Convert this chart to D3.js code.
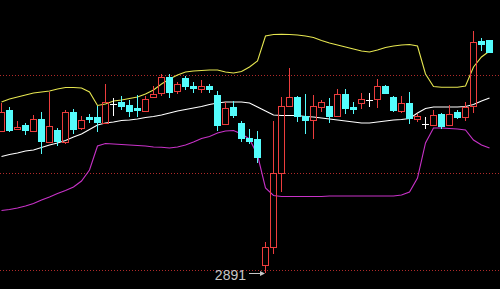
<!DOCTYPE html>
<html>
<head>
<meta charset="utf-8">
<script src="https://cdn.jsdelivr.net/npm/d3@7"></script>
<style>
  html, body { margin: 0; padding: 0; background: #000; }
  svg { display: block; }
</style>
</head>
<body>
<div id="chart"></div>
<script>
var width = 500, height = 289;

// daily candles
var openP  = [3032,3053,3034,3038,3032,3044,3021,3033,3021,3051,3035,3046,3046,3040,3059,3061,3058,3055,3052,3066,
              3070,3086,3072,3085,3077,3074,3077,3068,3039,3056,3040,3025,3024,2898,2916,2990,3057,3066,3047,3043,
              3056,3057,3047,3069,3056,3060,3063,3064,3077,3066,3052,3060,3044,3039,3038,3049,3038,3051,3046,3057,
              3122,3123];
var highP  = [3060,3056,3042,3040,3048,3051,3071,3035,3053,3054,3047,3049,3057,3079,3065,3067,3063,3068,3067,3077,
              3089,3089,3081,3087,3081,3083,3079,3072,3061,3062,3042,3034,3032,2921,3042,3066,3095,3067,3069,3068,
              3063,3065,3074,3074,3061,3070,3070,3084,3078,3067,3067,3071,3049,3046,3053,3050,3058,3053,3061,3132,
              3125,3123];
var lowP   = [3032,3032,3034,3029,3032,3010,3021,3018,3020,3030,3034,3041,3032,3040,3048,3054,3047,3047,3052,3066,
              3068,3066,3070,3074,3071,3071,3071,3033,3039,3046,3022,3020,3001,2891,2910,2972,3057,3042,3030,3025,
              3052,3041,3047,3050,3050,3055,3057,3056,3070,3052,3051,3040,3042,3035,3038,3035,3038,3045,3043,3051,
              3113,3111];
var closeP = [3051,3033,3036,3033,3044,3022,3037,3022,3051,3034,3043,3044,3041,3061,3059,3057,3052,3053,3064,3069,
              3086,3071,3079,3077,3075,3077,3074,3038,3055,3048,3025,3022,3006,2916,2990,3057,3066,3047,3043,3057,
              3061,3047,3069,3055,3054,3064,3063,3077,3070,3053,3060,3045,3047,3039,3048,3037,3049,3046,3056,3121,
              3119,3111];

// bollinger bands
var upperBand = [3061,3064,3066,3068,3070,3071,3072,3074,3075.5,3075.5,3075,3071,3057.5,3059,3062,3063,3064.5,3066,3069,3073,
                 3079,3084,3088,3091,3092,3092.5,3093,3093,3091,3090,3091.5,3096,3102,3127,3128.5,3128.7,3128.5,3128,3127,3125.5,
                 3122.5,3120,3118,3116,3114,3112,3111,3113,3115.5,3117,3118,3118.5,3117,3089,3076.5,3075.7,3075.7,3075.7,3077,3096,
                 3106,3112];
var midBand   = [3006.5,3008.5,3010,3012,3013,3015.5,3018,3020,3022.5,3026,3029,3033.5,3038,3040,3041,3042.5,3043,3044,3045.5,3046.5,
                 3048,3050,3052,3053.5,3055,3056.5,3058.5,3060,3061,3061,3061,3060,3056,3052,3048,3047.5,3047.5,3047.5,3046.5,3046,
                 3045,3044,3043,3042,3041,3040,3040,3041,3042,3043,3043.5,3044.5,3050,3054.5,3056,3056,3056,3056,3056.5,3058.5,
                 3062,3065];
var lowerBand = [2952.5,2953.5,2955,2957,2959.5,2963,2966,2969.5,2972.5,2976,2982,2993,3017,3019.5,3019,3018.5,3018,3017.5,3017,3016,
                 3015.7,3015,3016,3018,3021,3024.5,3026.5,3030,3032,3032.5,3029,3024,3008,2975,2967.5,2966.5,2966.5,2966.5,2966.5,2966.5,
                 2966.5,2967,2967,2967,2967,2967,2967,2967,2967,2967,2968,2971,2985,3020,3035,3035,3034.5,3034,3033,3023,
                 3018,3015];

var gridLevels = [3088, 2990, 2893];
var lowLabel = "2891";

var red = "#ec3d3d", cyan = "#54fcfc";

var svg = d3.select("#chart").append("svg")
  .attr("width", width)
  .attr("height", height)
  .style("background", "#000")

var x = d3.scaleLinear().domain([0, openP.length - 1]).range([1.5, 489.5])
var y = d3.scaleLinear().domain([2880, 3170]).range([283, -7])

function crisp(v) { return Math.round(v) + 0.5; }

// dotted price lines
svg.selectAll(".grid").data(gridLevels).enter().append("line")
  .attr("class", "grid")
  .attr("x1", 0).attr("x2", width)
  .attr("y1", function(d) { return crisp(y(d)) })
  .attr("y2", function(d) { return crisp(y(d)) })
  .attr("stroke", "#b02a2a")
  .attr("stroke-dasharray", "1,2")

function band(values, color) {
  svg.append("path")
    .datum(values)
    .attr("fill", "none")
    .attr("stroke", color)
    .attr("stroke-width", 1.1)
    .attr("d", d3.line().x(function(d, i) { return x(i) }).y(function(d) { return y(d) }))
}
band(upperBand, "#e6e650")
band(midBand, "#ffffff")
band(lowerBand, "#c832c8")

var candles = openP.map(function(o, i) {
  return { i: i, o: o, h: highP[i], l: lowP[i], c: closeP[i] }
})

var g = svg.append("g")
candles.forEach(function(d) {
  var cx = x(d.i);
  if (d.c === d.o) {
    // doji cross
    g.append("line").attr("x1", cx).attr("x2", cx)
      .attr("y1", crisp(y(d.h)) - 0.5).attr("y2", crisp(y(d.l)) + 0.5)
      .attr("stroke", "#fff")
    g.append("line").attr("x1", cx - 3.5).attr("x2", cx + 3.5)
      .attr("y1", crisp(y(d.o))).attr("y2", crisp(y(d.o)))
      .attr("stroke", "#fff")
  } else if (d.c > d.o) {
    // rising: hollow red box, wick outside the body
    var top = Math.round(y(d.c)), bot = Math.round(y(d.o));
    g.append("line").attr("x1", cx).attr("x2", cx)
      .attr("y1", Math.round(y(d.h))).attr("y2", top)
      .attr("stroke", red)
    g.append("line").attr("x1", cx).attr("x2", cx)
      .attr("y1", bot).attr("y2", Math.round(y(d.l)) + 1)
      .attr("stroke", red)
    g.append("rect")
      .attr("x", cx - 3).attr("width", 6)
      .attr("y", top + 0.5).attr("height", Math.max(1, bot - top))
      .attr("fill", "none")
      .attr("stroke", red)
  } else {
    // falling: filled cyan box
    var top2 = Math.round(y(d.o)), bot2 = Math.round(y(d.c));
    g.append("line").attr("x1", cx).attr("x2", cx)
      .attr("y1", Math.round(y(d.h))).attr("y2", Math.round(y(d.l)) + 1)
      .attr("stroke", cyan)
    g.append("rect")
      .attr("x", cx - 3.5).attr("width", 7)
      .attr("y", top2).attr("height", Math.max(2, bot2 - top2 + 1))
      .attr("fill", cyan)
  }
})

// label for the lowest low
var lowIdx = d3.minIndex(lowP);
var ax = x(lowIdx) - 0.5, ay = crisp(y(lowP[lowIdx])) + 1;
svg.append("text")
  .attr("x", ax - 19)
  .attr("y", ay + 6.5)
  .attr("text-anchor", "end")
  .attr("font-family", "Liberation Sans, Arial, sans-serif")
  .attr("font-size", "14px")
  .attr("fill", "#c8c8c8")
  .text(lowLabel)
svg.append("line")
  .attr("x1", ax - 16).attr("x2", ax - 3)
  .attr("y1", ay).attr("y2", ay)
  .attr("stroke", "#c8c8c8")
svg.append("path")
  .attr("d", "M" + ax + "," + ay + "L" + (ax - 5) + "," + (ay - 2.5) + "L" + (ax - 5) + "," + (ay + 2.5) + "Z")
  .attr("fill", "#c8c8c8")
</script>
</body>
</html>
